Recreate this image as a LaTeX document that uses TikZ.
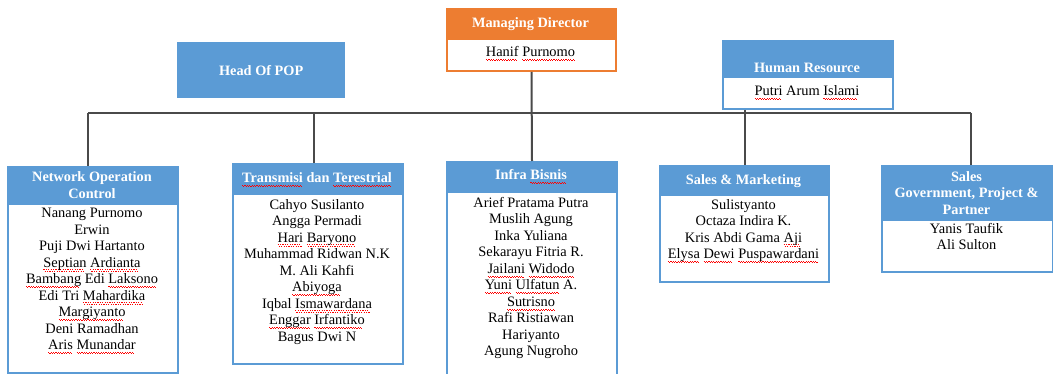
\documentclass[tikz,border=0pt]{standalone}
\usepackage{fontspec}
\setmainfont{Liberation Serif}
\definecolor{hdrblue}{HTML}{5B9BD5}
\definecolor{mdorange}{HTML}{ED7D31}
\definecolor{linegray}{HTML}{4A4A4A}
\newsavebox\sqbox
\newcommand\sq[1]{\sbox\sqbox{#1}\rlap{\color{red}\leaders\hbox{\lower3pt\hbox{\vrule width1.2pt height0.8pt depth0pt}\lower4.3pt\hbox{\vrule width1.2pt height0.8pt depth0pt}}\hskip\wd\sqbox}\usebox\sqbox}
\tikzset{
  conn/.style={draw=linegray, line width=2pt},
  unitbox/.style={draw=hdrblue, line width=2pt, fill=white, inner sep=0pt, anchor=north west},
  hdr/.style={fill=hdrblue, inner sep=0pt, anchor=north west},
  hdrtext/.style={text=white, font=\bfseries\fontsize{14.3}{16.5}\selectfont, align=center, inner sep=0pt},
  names/.style={font=\fontsize{14.4}{16.5}\selectfont, align=center, inner sep=0pt},
  popbox/.style={fill=hdrblue, inner sep=0pt, anchor=north west, text=white, font=\bfseries\fontsize{14.3}{16.5}\selectfont}
}
\begin{document}
\begin{tikzpicture}[x=1pt,y=-1pt]
\clip (0,0) rectangle (1053,374);
\fill[white] (0,0) rectangle (1053,374);

% top level
\node[unitbox, draw=mdorange, minimum width=169, minimum height=62] (md) at (446,8) {};
\node[hdr, fill=mdorange, minimum width=169, minimum height=32] (mdh) at (446,8) {};
\node[hdrtext] (mdt) at (530.5,24) {Managing Director};
\node[names] (mdn) at (530.5,54) {\sq{Hanif} \sq{Purnomo}};

\node[popbox, minimum width=168, minimum height=56] (pop) at (177,42) {Head Of POP};

\node[unitbox, minimum width=170, minimum height=68] (hr) at (722,40) {};
\node[hdr, minimum width=170, minimum height=38] (hrh) at (722,40) {};
\node[hdrtext] (hrt) at (807,68) {Human Resource};
\node[names] (hrn) at (807,93) {\sq{Putri} Arum \sq{Islami}};

% units
\node[unitbox, minimum width=170, minimum height=206] (noc) at (7,166) {};
\node[hdr, minimum width=170, minimum height=39] (noch) at (7,166) {};
\node[hdrtext] (noct) at (92,185) {Network Operation\\Control};
\node[names, anchor=north] (nocn) at (92,208) {Nanang Purnomo\\Erwin\\Puji Dwi Hartanto\\\sq{Septian} \sq{Ardianta}\\\sq{Bambang} Edi \sq{Laksono}\\Edi Tri \sq{Mahardika}\\\sq{Margiyanto}\\Deni Ramadhan\\\sq{Aris} \sq{Munandar}};

\node[unitbox, minimum width=170, minimum height=200] (trs) at (232,163) {};
\node[hdr, minimum width=170, minimum height=32] (trsh) at (232,163) {};
\node[hdrtext] (trst) at (317,180) {\sq{Transmisi} dan \sq{Terestrial}};
\node[names, anchor=north] (trsn) at (317,199) {Cahyo Susilanto\\Angga Permadi\\\sq{Hari} \sq{Baryono}\\Muhammad Ridwan N.K\\M. Ali Kahfi\\\sq{Abiyoga}\\Iqbal \sq{Ismawardana}\\\sq{Enggar} \sq{Irfantiko}\\Bagus Dwi N};

\node[unitbox, minimum width=170, minimum height=230] (inf) at (446,161) {};
\node[hdr, minimum width=170, minimum height=32] (infh) at (446,161) {};
\node[hdrtext] (inft) at (531,177) {Infra \sq{Bisnis}};
\node[names, anchor=north] (infn) at (531,197) {Arief Pratama Putra\\Muslih Agung\\Inka Yuliana\\Sekarayu Fitria R.\\\sq{Jailani} \sq{Widodo}\\\sq{Yuni} \sq{Ulfatun} A.\\\sq{Sutrisno}\\Rafi Ristiawan\\Hariyanto\\Agung Nugroho};

\node[unitbox, minimum width=169, minimum height=116] (smk) at (659,165) {};
\node[hdr, minimum width=169, minimum height=31] (smkh) at (659,165) {};
\node[hdrtext] (smkt) at (743.5,181) {Sales \& Marketing};
\node[names, anchor=north] (smkn) at (743.5,199) {Sulistyanto\\Octaza Indira K.\\Kris Abdi Gama \sq{Aji}\\\sq{Elysa} \sq{Dewi} \sq{Puspawardani}};

\node[unitbox, minimum width=171, minimum height=106] (gov) at (881,165) {};
\node[hdr, minimum width=171, minimum height=56] (govh) at (881,165) {};
\node[hdrtext] (govt) at (966.5,193) {Sales\\Government, Project \&\\Partner};
\node[names, anchor=north] (govn) at (966.5,223) {Yanis Taufik\\Ali Sulton};

% connectors
\coordinate (busL) at (88,113);
\coordinate (busT) at (314,113);
\coordinate (busS) at (745,113);
\coordinate (busR) at (971,113);
\draw[conn] (busL) -- (busR);
\draw[conn] (md.south) -- (inf.north);
\draw[conn] (busS |- hr.south) -- (busS |- smk.north);
\draw[conn] (busL) -- (busL |- noc.north);
\draw[conn] (busT) -- (busT |- trs.north);
\draw[conn] (busR) -- (busR |- gov.north);
\end{tikzpicture}
\end{document}
